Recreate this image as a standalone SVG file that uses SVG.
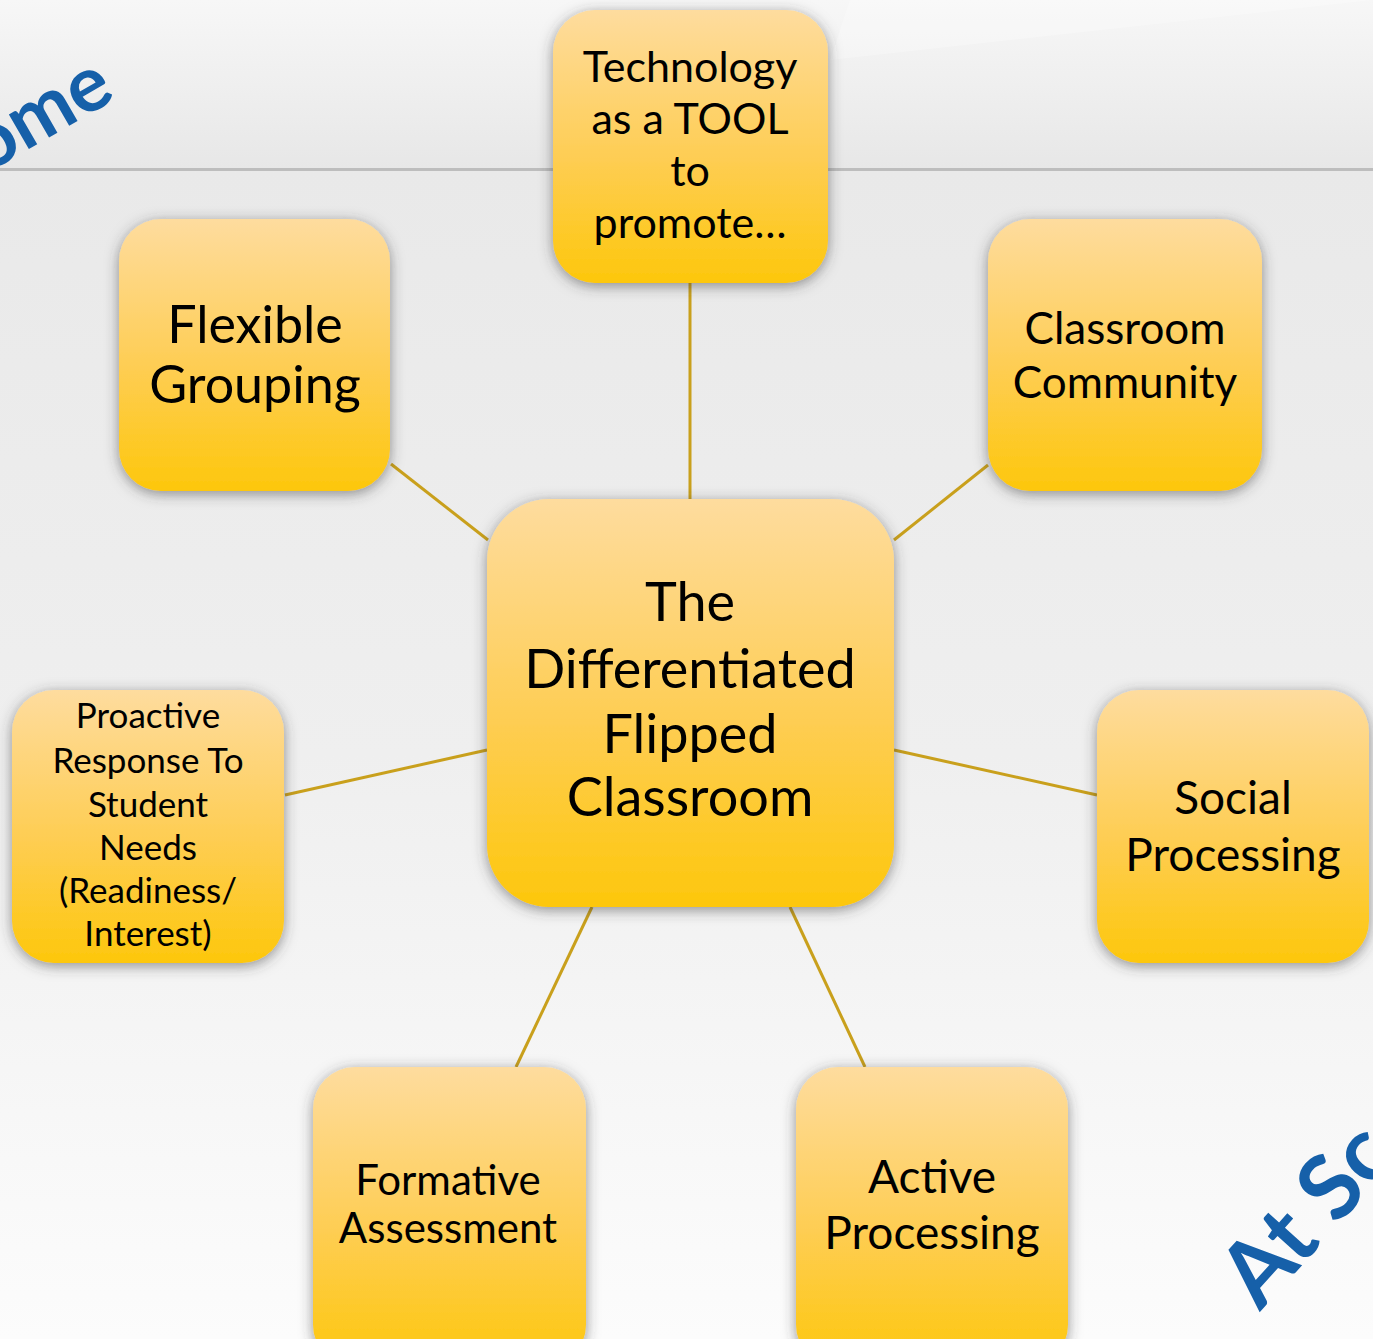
<svg xmlns="http://www.w3.org/2000/svg" width="1373" height="1339" viewBox="0 0 1373 1339">
  <defs>
    <linearGradient id="bgTop" x1="0" y1="0" x2="0" y2="1">
      <stop offset="0" stop-color="#f7f7f7"/>
      <stop offset="1" stop-color="#e7e7e7"/>
    </linearGradient>
    <linearGradient id="bgBottom" x1="0" y1="0" x2="0" y2="1">
      <stop offset="0" stop-color="#e9e9e9"/>
      <stop offset="0.5" stop-color="#efefef"/>
      <stop offset="1" stop-color="#fcfcfc"/>
    </linearGradient>
    <linearGradient id="nodeFill" x1="0" y1="0" x2="0" y2="1">
      <stop offset="0" stop-color="#fedc9e"/>
      <stop offset="0.55" stop-color="#fecd52"/>
      <stop offset="1" stop-color="#fdc70c"/>
    </linearGradient>
    <filter id="shadow" x="-20%" y="-20%" width="140%" height="140%">
      <feDropShadow dx="0" dy="3" stdDeviation="7" flood-color="#3a3a3a" flood-opacity="0.55"/>
    </filter>
  </defs>
  <style>
    .box { fill: url(#nodeFill); filter: url(#shadow); }
    .label { font-family: Lato, "Liberation Sans", sans-serif; fill: #000; text-anchor: middle; }
    .link { stroke: #c9a01c; stroke-width: 3; fill: none; }
    .title { font-family: Lato, "Liberation Sans", sans-serif; font-weight: bold; fill: #1660a9; }
  </style>

  <!-- slide background -->
  <rect x="0" y="0" width="1373" height="170" fill="url(#bgTop)"/>
  <rect x="0" y="170" width="1373" height="1169" fill="url(#bgBottom)"/>
  <rect x="0" y="168" width="1373" height="3" fill="#bdbdbd"/>
  <polygon points="850,0 1373,0 1373,0 830,60" fill="#ffffff" opacity="0.25"/>

  <!-- slide titles, running off the slide edges -->
  <text class="title" font-size="78" transform="translate(-14,174) rotate(-30)">ome</text>
  <text class="title" font-size="90" transform="translate(1260,1312) rotate(-48)">At Sc</text>

  <!-- connectors -->
  <g id="connectors">
    <line class="link" x1="690" y1="499" x2="690" y2="283"/>
    <line class="link" x1="488" y1="540" x2="391" y2="464"/>
    <line class="link" x1="894" y1="540" x2="988" y2="465"/>
    <line class="link" x1="487" y1="750" x2="285" y2="795"/>
    <line class="link" x1="894" y1="750" x2="1097" y2="795"/>
    <line class="link" x1="592" y1="907" x2="516" y2="1067"/>
    <line class="link" x1="790" y1="907" x2="865" y2="1067"/>
  </g>

  <!-- center -->
  <g id="node-center">
    <rect class="box" x="487" y="499" width="407" height="408" rx="62"/>
    <text class="label" font-size="54" x="690" y="621">The</text>
    <text class="label" font-size="54" x="690" y="688">Differentiated</text>
    <text class="label" font-size="54" x="690" y="753">Flipped</text>
    <text class="label" font-size="54" x="690" y="816">Classroom</text>
  </g>

  <g id="node-technology">
    <rect class="box" x="553" y="10" width="275" height="273" rx="42"/>
    <text class="label" font-size="43" x="690" y="82">Technology</text>
    <text class="label" font-size="43" x="690" y="134">as a TOOL</text>
    <text class="label" font-size="43" x="690" y="186">to</text>
    <text class="label" font-size="43" x="690" y="238">promote…</text>
  </g>

  <g id="node-flexible">
    <rect class="box" x="119" y="219" width="271" height="272" rx="42"/>
    <text class="label" font-size="52" x="255" y="343">Flexible</text>
    <text class="label" font-size="52" x="255" y="403">Grouping</text>
  </g>

  <g id="node-community">
    <rect class="box" x="988" y="219" width="274" height="272" rx="42"/>
    <text class="label" font-size="44" x="1125" y="344">Classroom</text>
    <text class="label" font-size="44" x="1125" y="398">Community</text>
  </g>

  <g id="node-proactive">
    <rect class="box" x="12" y="690" width="272" height="273" rx="42"/>
    <text class="label" font-size="35" x="148" y="728">Proactive</text>
    <text class="label" font-size="35" x="148" y="773">Response To</text>
    <text class="label" font-size="35" x="148" y="817">Student</text>
    <text class="label" font-size="35" x="148" y="860">Needs</text>
    <text class="label" font-size="35" x="148" y="903">(Readiness/</text>
    <text class="label" font-size="35" x="148" y="946">Interest)</text>
  </g>

  <g id="node-social">
    <rect class="box" x="1097" y="690" width="272" height="273" rx="42"/>
    <text class="label" font-size="46" x="1233" y="814">Social</text>
    <text class="label" font-size="46" x="1233" y="871">Processing</text>
  </g>

  <g id="node-formative">
    <rect class="box" x="313" y="1067" width="273" height="300" rx="42"/>
    <text class="label" font-size="42" x="448" y="1195">Formative</text>
    <text class="label" font-size="42" x="448" y="1243">Assessment</text>
  </g>

  <g id="node-active">
    <rect class="box" x="796" y="1067" width="272" height="300" rx="42"/>
    <text class="label" font-size="46" x="932" y="1193">Active</text>
    <text class="label" font-size="46" x="932" y="1249">Processing</text>
  </g>
</svg>
